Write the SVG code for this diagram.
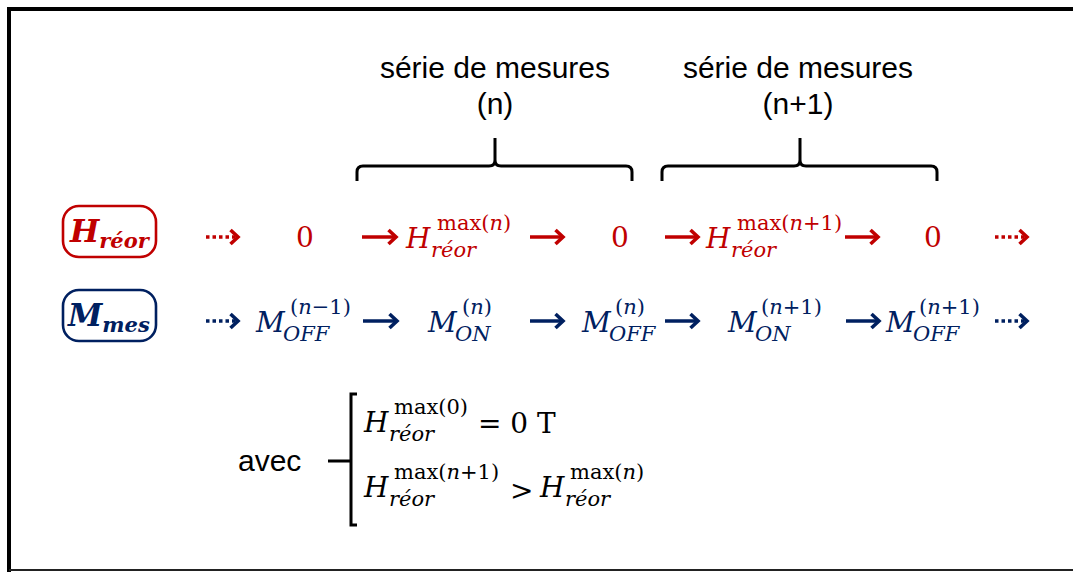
<svg xmlns="http://www.w3.org/2000/svg" width="1073" height="572" viewBox="0 0 1073 572">
<defs>
<style>
.lab{font-family:"Liberation Sans",Arial,sans-serif;font-size:30px;fill:#000}
.m{font-family:"DejaVu Serif","Liberation Serif",serif;font-style:italic}
.up{font-style:normal}
.red{fill:#c00000}
.blue{fill:#002060}
.big{font-size:28px}
.sm{font-size:21px}
.ar{fill:none;stroke-width:3.6;stroke-linecap:butt;stroke-linejoin:miter}
.rs{stroke:#c00000}
.bs{stroke:#002060}
.dot{stroke-dasharray:3.5 3}
.br{fill:none;stroke:#000;stroke-width:3}
</style>
<marker id="hr" markerWidth="12" markerHeight="18" refX="9" refY="9" orient="auto" markerUnits="userSpaceOnUse"><path d="M1.5,2 L9,9 L1.5,16" fill="none" stroke="#c00000" stroke-width="3.6"/></marker>
<marker id="hb" markerWidth="12" markerHeight="18" refX="9" refY="9" orient="auto" markerUnits="userSpaceOnUse"><path d="M1.5,2 L9,9 L1.5,16" fill="none" stroke="#002060" stroke-width="3.6"/></marker>
</defs>
<rect width="1073" height="572" fill="#fff"/>
<path d="M9,572 L9,9 L1073,9" fill="none" stroke="#000" stroke-width="4"/>
<line x1="9" y1="570" x2="1073" y2="570" stroke="#222" stroke-width="2"/>

<g id="titles">
<text class="lab" x="495" y="78" text-anchor="middle">série de mesures</text>
<text class="lab" x="495" y="114" text-anchor="middle">(n)</text>
<text class="lab" x="798" y="78" text-anchor="middle">série de mesures</text>
<text class="lab" x="798" y="114" text-anchor="middle">(n+1)</text>
</g>
<g id="braces">
<path class="br" d="M357,181 L357,172 Q357,166 363,166 L489,166 Q495,166 495,160 L495,138 M495,160 Q495,166 501,166 L626,166 Q632,166 632,172 L632,181"/>
<path class="br" d="M662,181 L662,172 Q662,166 668,166 L794,166 Q800,166 800,160 L800,138 M800,160 Q800,166 806,166 L931,166 Q937,166 937,172 L937,181"/>
</g>

<g id="node-H">
<rect x="63" y="206" width="93" height="51" rx="16" fill="none" stroke="#c00000" stroke-width="2.6"/>
<text class="m red" x="70" y="242" font-weight="bold"><tspan font-size="31">H</tspan><tspan font-size="21" dy="6">réor</tspan></text>
</g>
<g id="node-M">
<rect x="63" y="290" width="93" height="51" rx="16" fill="none" stroke="#002060" stroke-width="2.6"/>
<text class="m blue" x="68" y="326" font-weight="bold"><tspan font-size="31">M</tspan><tspan font-size="21" dy="6">mes</tspan></text>
</g>

<g id="row-H">
<text class="m red up big" x="305" y="247" text-anchor="middle">0</text>
<text class="m red big" x="406" y="248">H</text>
<text class="m red up sm" x="437" y="230">max(<tspan font-style="italic">n</tspan>)</text>
<text class="m red sm" x="431" y="257">réor</text>
<text class="m red up big" x="620" y="247" text-anchor="middle">0</text>
<text class="m red big" x="706" y="248">H</text>
<text class="m red up sm" x="737" y="230">max(<tspan font-style="italic">n</tspan>+1)</text>
<text class="m red sm" x="731" y="257">réor</text>
<text class="m red up big" x="933" y="247" text-anchor="middle">0</text>
</g>

<g id="row-M">
<text class="m blue big" x="256" y="332">M</text>
<text class="m blue up sm" x="290" y="314">(<tspan font-style="italic">n</tspan>−1)</text>
<text class="m blue sm" x="283" y="341">OFF</text>
<text class="m blue big" x="428" y="332">M</text>
<text class="m blue up sm" x="462" y="314">(<tspan font-style="italic">n</tspan>)</text>
<text class="m blue sm" x="455" y="341">ON</text>
<text class="m blue big" x="582" y="332">M</text>
<text class="m blue up sm" x="615" y="314">(<tspan font-style="italic">n</tspan>)</text>
<text class="m blue sm" x="609" y="341">OFF</text>
<text class="m blue big" x="728" y="332">M</text>
<text class="m blue up sm" x="761" y="314">(<tspan font-style="italic">n</tspan>+1)</text>
<text class="m blue sm" x="755" y="341">ON</text>
<text class="m blue big" x="886" y="332">M</text>
<text class="m blue up sm" x="919" y="314">(<tspan font-style="italic">n</tspan>+1)</text>
<text class="m blue sm" x="913" y="341">OFF</text>
</g>

<g id="connectors">
<line class="ar rs dot" x1="206" y1="237" x2="238" y2="237" marker-end="url(#hr)"/>
<line class="ar rs" x1="362" y1="237" x2="396" y2="237" marker-end="url(#hr)"/>
<line class="ar rs" x1="530" y1="237" x2="563" y2="237" marker-end="url(#hr)"/>
<line class="ar rs" x1="665" y1="237" x2="698" y2="237" marker-end="url(#hr)"/>
<line class="ar rs" x1="845" y1="237" x2="878" y2="237" marker-end="url(#hr)"/>
<line class="ar rs dot" x1="995" y1="237" x2="1027" y2="237" marker-end="url(#hr)"/>
<line class="ar bs dot" x1="206" y1="321" x2="238" y2="321" marker-end="url(#hb)"/>
<line class="ar bs" x1="363" y1="321" x2="397" y2="321" marker-end="url(#hb)"/>
<line class="ar bs" x1="530" y1="321" x2="563" y2="321" marker-end="url(#hb)"/>
<line class="ar bs" x1="665" y1="321" x2="698" y2="321" marker-end="url(#hb)"/>
<line class="ar bs" x1="846" y1="321" x2="879" y2="321" marker-end="url(#hb)"/>
<line class="ar bs dot" x1="995" y1="321" x2="1027" y2="321" marker-end="url(#hb)"/>
</g>

<g id="conditions">
<text class="lab" x="238" y="471">avec</text>
<path class="br" d="M328,461 L350,461 M357,394 L351,394 L351,525 L357,525"/>
<text class="m big" x="364" y="432">H</text>
<text class="m up sm" x="394" y="414">max(0)</text>
<text class="m sm" x="389" y="441">réor</text>
<text class="m up big" x="478" y="433">= 0 T</text>
<text class="m big" x="364" y="497">H</text>
<text class="m up sm" x="394" y="479">max(<tspan font-style="italic">n</tspan>+1)</text>
<text class="m sm" x="389" y="506">réor</text>
<text class="m up big" x="510" y="500">&gt;</text>
<text class="m big" x="540" y="497">H</text>
<text class="m up sm" x="570" y="479">max(<tspan font-style="italic">n</tspan>)</text>
<text class="m sm" x="565" y="506">réor</text>
</g>
</svg>
